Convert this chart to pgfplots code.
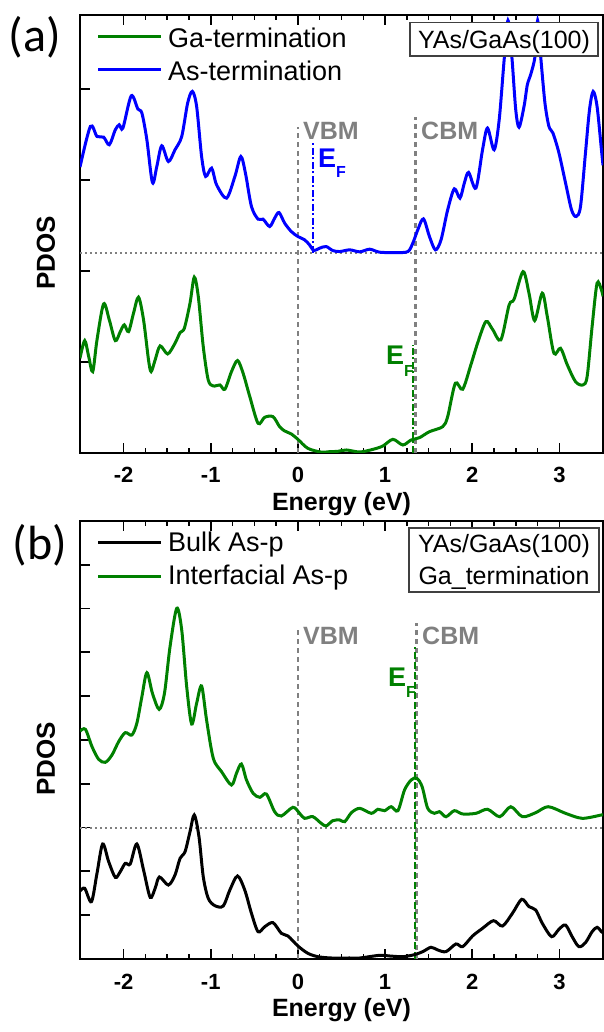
\documentclass[border=0pt]{standalone}
\usepackage{pgfplots}
\pgfplotsset{compat=1.18}
\usepackage{fontspec}
\setmainfont{Liberation Sans}
\newfontfamily\calib{Carlito}
\definecolor{dgreen}{RGB}{0,128,0}
\definecolor{vblue}{RGB}{0,0,255}
\definecolor{lgray}{RGB}{128,128,128}
\newcommand{\fs}[1]{\fontsize{#1}{#1}\selectfont}
\pgfplotsset{
  pdos/.style={
    scale only axis, width=523pt, height=438pt, anchor=south west,
    xmin=-2.5, xmax=3.5, ymin=0,
    xtick={-2,-1,0,1,2,3}, xticklabels={-2,-1,0,1,2,3},
    minor x tick num=3,
    yticklabels={}, ytick pos=left,
    xticklabel style={font=\bfseries\fs{22}, anchor=base, yshift=-30pt},
    axis line style={line width=2pt},
    major tick length=10pt, minor tick length=5pt,
    every tick/.style={black, line width=1.8pt},
    minor tick style={line width=1.5pt},
  },
  curve/.style={line width=3pt, smooth, tension=0.5, no marks},
  vline/.style={lgray, line width=2.3pt, dash pattern=on 5pt off 4pt, forget plot},
  hdot/.style={lgray, line width=2pt, dash pattern=on 2pt off 3pt, forget plot},
}
\begin{document}
\begin{tikzpicture}
\useasboundingbox (0,0) rectangle (603pt,1032pt);
% ---------------- panel (a)
\begin{axis}[pdos, at={(80pt,579pt)}, ymax=4.81, ytick={0,1,2,3,4}]
\addplot[hdot] coordinates {(-2.5,2.2) (3.5,2.2)};
\addplot[vline] coordinates {(0,0) (0,3.58)};
\addplot[vline] coordinates {(1.349,0) (1.349,3.69)};
\addplot[vblue, line width=2.5pt, dash pattern=on 7pt off 2.5pt on 2pt off 2.5pt, forget plot] coordinates {(0.171,2.2) (0.171,3.41)};
\addplot[dgreen, line width=2.5pt, dash pattern=on 7pt off 2.5pt on 2pt off 2.5pt, forget plot] coordinates {(1.318,0) (1.318,1.19)};
\addplot[dgreen, curve] coordinates {
(-2.5,1.04) (-2.446,1.234) (-2.4,1.058) (-2.354,0.894) (-2.305,1.242) (-2.229,1.637)
(-2.164,1.462) (-2.095,1.234) (-2.038,1.333) (-1.992,1.407) (-1.943,1.333) (-1.886,1.535)
(-1.829,1.711) (-1.771,1.462) (-1.714,1.022) (-1.684,0.894) (-1.638,1.022) (-1.581,1.176)
(-1.494,1.088) (-1.410,1.205) (-1.352,1.322) (-1.303,1.370) (-1.238,1.645) (-1.189,1.931)
(-1.143,1.718) (-1.086,1.168) (-1.029,0.802) (-0.971,0.736) (-0.895,0.747) (-0.838,0.700)
(-0.762,0.894) (-0.693,1.015) (-0.629,0.876) (-0.552,0.619) (-0.457,0.326) (-0.381,0.392)
(-0.286,0.399) (-0.210,0.289) (-0.152,0.242) (-0.076,0.209) (0.000,0.150) (0.114,0.051)
(0.267,0.010) (0.366,0.015) (0.457,0.018) (0.556,0.033) (0.709,0.011) (0.861,0.040)
(0.975,0.077) (1.090,0.150) (1.204,0.088) (1.299,0.143) (1.394,0.168) (1.509,0.234)
(1.661,0.289) (1.718,0.399) (1.806,0.766) (1.890,0.700) (1.985,0.971) (2.061,1.205)
(2.156,1.443) (2.232,1.359) (2.328,1.242) (2.423,1.626) (2.480,1.689) (2.583,1.992)
(2.651,1.755) (2.716,1.454) (2.803,1.755) (2.861,1.498) (2.937,1.095) (3.013,1.150)
(3.089,0.971) (3.184,0.784) (3.269,0.747) (3.318,0.839) (3.375,1.388) (3.432,1.865)
(3.482,1.791) (3.5,1.72)};
\addplot[vblue, curve] coordinates {
(-2.5,3.14) (-2.381,3.586) (-2.305,3.476) (-2.229,3.469) (-2.164,3.385) (-2.095,3.549)
(-2.050,3.604) (-2.008,3.568) (-1.912,3.923) (-1.836,3.777) (-1.790,3.733) (-1.733,3.440)
(-1.669,2.970) (-1.619,3.146) (-1.562,3.374) (-1.486,3.201) (-1.410,3.330) (-1.333,3.476)
(-1.265,3.843) (-1.211,3.971) (-1.162,3.806) (-1.105,3.256) (-1.059,3.037) (-0.990,3.128)
(-0.933,2.945) (-0.819,2.799) (-0.723,3.037) (-0.655,3.256) (-0.602,3.073) (-0.533,2.707)
(-0.457,2.568) (-0.400,2.568) (-0.324,2.487) (-0.267,2.579) (-0.217,2.641) (-0.152,2.524)
(-0.076,2.432) (0.000,2.377) (0.076,2.341) (0.133,2.286) (0.183,2.223) (0.248,2.249)
(0.324,2.267) (0.400,2.223) (0.480,2.212) (0.594,2.231) (0.709,2.209) (0.823,2.238)
(0.937,2.205) (1.128,2.201) (1.261,2.212) (1.318,2.304) (1.375,2.451) (1.440,2.571)
(1.509,2.377) (1.577,2.231) (1.642,2.341) (1.718,2.670) (1.794,2.901) (1.859,2.799)
(1.909,2.964) (1.958,3.081) (2.042,2.909) (2.118,3.330) (2.175,3.568) (2.251,3.330)
(2.309,3.659) (2.366,4.319) (2.41,4.75) (2.454,4.355) (2.499,3.769) (2.537,3.578)
(2.594,3.806) (2.632,4.044) (2.670,4.154) (2.720,4.355) (2.75,4.75) (2.785,4.355)
(2.834,3.843) (2.880,3.586) (2.926,3.513) (2.994,3.297) (3.070,2.967) (3.139,2.670)
(3.192,2.597) (3.242,2.707) (3.299,3.297) (3.345,3.769) (3.387,3.970) (3.432,3.806)
(3.482,3.330) (3.5,3.16)};
\end{axis}
% ---------------- panel (b)
\begin{axis}[pdos, at={(80pt,73pt)}, ymax=10, ytick={0,1,...,9}]
\addplot[hdot] coordinates {(-2.5,3) (3.5,3)};
\addplot[vline] coordinates {(0,0) (0,7.51)};
\addplot[vline] coordinates {(1.36,0) (1.36,7.67)};
\addplot[dgreen, line width=2.4pt, dash pattern=on 7pt off 3pt, forget plot] coordinates {(1.345,0) (1.345,7.12)};
\addplot[black, curve] coordinates {
(-2.5,1.55) (-2.446,1.614) (-2.369,1.308) (-2.305,1.956) (-2.240,2.626) (-2.171,2.222)
(-2.095,1.865) (-2.038,1.994) (-1.981,2.184) (-1.924,2.169) (-1.848,2.626) (-1.771,2.032)
(-1.695,1.408) (-1.638,1.614) (-1.589,1.872) (-1.486,1.689) (-1.410,1.918) (-1.352,2.299)
(-1.295,2.450) (-1.238,2.906) (-1.189,3.288) (-1.135,2.792) (-1.086,1.879) (-1.029,1.386)
(-0.952,1.217) (-0.857,1.210) (-0.781,1.575) (-0.693,1.895) (-0.610,1.575) (-0.533,1.043)
(-0.457,0.623) (-0.381,0.737) (-0.286,0.829) (-0.190,0.586) (-0.114,0.525) (0.000,0.297)
(0.114,0.130) (0.229,0.053) (0.381,0.023) (0.594,0.023) (0.709,0.023) (0.937,0.084)
(1.050,0.069) (1.204,0.053) (1.337,0.099) (1.432,0.168) (1.527,0.267) (1.604,0.206)
(1.699,0.168) (1.813,0.343) (1.890,0.282) (2.004,0.526) (2.118,0.700) (2.244,0.875)
(2.347,0.753) (2.461,1.043) (2.568,1.362) (2.651,1.195) (2.728,1.119) (2.804,0.814)
(2.910,0.510) (2.994,0.677) (3.070,0.776) (3.146,0.510) (3.223,0.282) (3.299,0.373)
(3.375,0.624) (3.432,0.723) (3.482,0.624) (3.5,0.60)};
\addplot[dgreen, curve] coordinates {
(-2.5,5.20) (-2.438,5.244) (-2.362,4.847) (-2.286,4.559) (-2.210,4.490) (-2.133,4.658)
(-2.057,4.961) (-1.981,5.167) (-1.905,5.114) (-1.848,5.381) (-1.790,5.989) (-1.733,6.537)
(-1.669,6.066) (-1.592,5.700) (-1.531,6.066) (-1.467,7.131) (-1.390,8.007) (-1.333,7.511)
(-1.276,6.217) (-1.219,5.365) (-1.162,5.838) (-1.105,6.233) (-1.048,5.457) (-0.971,4.582)
(-0.876,4.277) (-0.762,3.973) (-0.705,4.240) (-0.648,4.452) (-0.590,4.087) (-0.514,3.783)
(-0.438,3.691) (-0.362,3.767) (-0.267,3.363) (-0.190,3.265) (-0.057,3.463) (0.019,3.326)
(0.076,3.212) (0.171,3.249) (0.267,3.098) (0.324,3.037) (0.400,3.158) (0.480,3.174)
(0.537,3.135) (0.614,3.341) (0.709,3.440) (0.842,3.326) (0.918,3.418) (0.994,3.386)
(1.070,3.477) (1.147,3.386) (1.223,3.858) (1.299,4.087) (1.364,4.125) (1.425,3.934)
(1.489,3.440) (1.566,3.326) (1.623,3.364) (1.699,3.249) (1.794,3.386) (1.890,3.311)
(2.042,3.326) (2.175,3.418) (2.316,3.249) (2.442,3.477) (2.575,3.249) (2.728,3.341)
(2.872,3.477) (3.070,3.326) (3.261,3.212) (3.482,3.288) (3.5,3.29)};
\end{axis}
% ---------------- annotations (pt = px of the reference, y measured from the bottom)
\node[font=\calib\fs{48}, inner sep=0pt] at (35pt,995pt) {(a)};
\node[font=\calib\fs{48}, inner sep=0pt] at (40pt,487pt) {(b)};
\node[font=\bfseries\fs{26}, rotate=90, inner sep=0pt] at (46pt,779pt) {PDOS};
\node[font=\bfseries\fs{26}, rotate=90, inner sep=0pt] at (46pt,273pt) {PDOS};
\node[font=\bfseries\fs{25}, anchor=base, inner sep=0pt] at (341.5pt,521pt) {Energy (eV)};
\node[font=\bfseries\fs{25}, anchor=base, inner sep=0pt] at (341.5pt,15pt) {Energy (eV)};
\draw[dgreen, line width=3pt] (98pt,995pt) -- (161pt,995pt);
\node[font=\fs{27}, anchor=base west, inner sep=0pt] at (168pt,984pt) {Ga-termination};
\draw[vblue, line width=3pt] (98pt,962pt) -- (161pt,962pt);
\node[font=\fs{27}, anchor=base west, inner sep=0pt] at (168pt,951pt) {As-termination};
\draw[black, line width=3pt] (98pt,489pt) -- (161pt,489pt);
\node[font=\fs{27}, anchor=base west, inner sep=0pt] at (168pt,480pt) {Bulk As-p};
\draw[dgreen, line width=3pt] (98pt,455pt) -- (161pt,455pt);
\node[font=\fs{27}, anchor=base west, inner sep=0pt] at (168pt,447pt) {Interfacial As-p};
\draw[fill=white, draw=black!75, line width=1.1pt] (410pt,976pt) rectangle (598pt,1009.3pt);
\node[font=\fs{25}, anchor=base, inner sep=0pt] at (504pt,983pt) {YAs/GaAs(100)};
\draw[fill=white, draw=black!75, line width=1.1pt] (409pt,440pt) rectangle (599pt,504pt);
\node[font=\fs{25}, anchor=base, inner sep=0pt] at (504pt,479pt) {YAs/GaAs(100)};
\node[font=\fs{25}, anchor=base, inner sep=0pt] at (504pt,447pt) {Ga\_termination};
\node[font=\bfseries\fs{25}, text=lgray, anchor=base west, inner sep=0pt] at (303pt,892pt) {VBM};
\node[font=\bfseries\fs{25}, text=lgray, anchor=base west, inner sep=0pt] at (421pt,892pt) {CBM};
\node[font=\bfseries\fs{25}, text=lgray, anchor=base west, inner sep=0pt] at (303pt,387pt) {VBM};
\node[font=\bfseries\fs{25}, text=lgray, anchor=base west, inner sep=0pt] at (422pt,387pt) {CBM};
\node[font=\bfseries\fs{27}, text=vblue, anchor=base west, inner sep=0pt] at (318pt,864pt) {E\raisebox{-10pt}{\fs{16}F}};
\node[font=\bfseries\fs{27}, text=dgreen, anchor=base west, inner sep=0pt] at (386pt,667pt) {E\raisebox{-12pt}{\fs{16}F}};
\node[font=\bfseries\fs{27}, text=dgreen, anchor=base west, inner sep=0pt] at (388pt,345pt) {E\raisebox{-11pt}{\fs{16}F}};
\end{tikzpicture}
\end{document}
